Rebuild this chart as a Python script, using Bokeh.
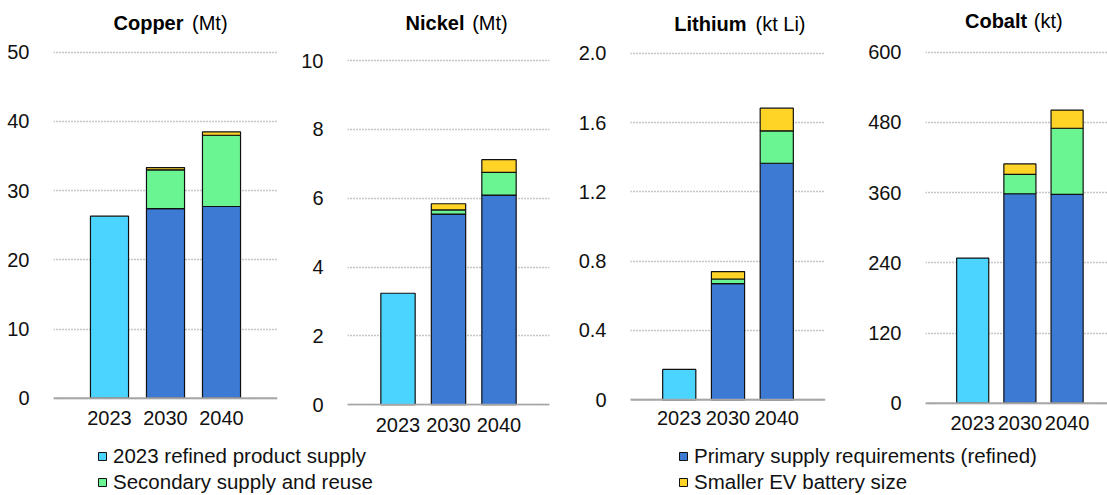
from bokeh.plotting import figure
from bokeh.models import (ColumnDataSource, FixedTicker, CustomJSTickFormatter, Label,
                          Legend, LegendItem, Range1d, Span)
from bokeh.layouts import column, row
from bokeh.embed import file_html
from bokeh.resources import INLINE

# ---------------- data ----------------
years = ["2023", "2030", "2040"]
minerals = ["Copper", "Nickel", "Lithium", "Cobalt"]
units = ["(Mt)", "(Mt)", "(kt Li)", "(kt)"]

# values per mineral (Copper, Nickel, Lithium, Cobalt)
refined_supply_2023 = [26.3, 3.24, 0.175, 248]
primary_2030 = [27.4, 5.54, 0.67, 358]
primary_2040 = [27.7, 6.09, 1.365, 357]
secondary_2030 = [5.6, 0.12, 0.027, 33]
secondary_2040 = [10.3, 0.66, 0.187, 113]
smaller_ev_2030 = [0.33, 0.18, 0.043, 18]
smaller_ev_2040 = [0.48, 0.37, 0.131, 31]

y_ticks = [
    [0, 10, 20, 30, 40, 50],
    [0, 2, 4, 6, 8, 10],
    [0, 0.4, 0.8, 1.2, 1.6, 2.0],
    [0, 120, 240, 360, 480, 600],
]

series_names = ["2023 refined product supply", "Primary supply requirements (refined)",
                "Secondary supply and reuse", "Smaller EV battery size"]
colors = ["#4AD4FF", "#3D7AD4", "#6BF592", "#FFD426"]

# ---------------- layout (pixels) ----------------
FONT = "Liberation Sans"
TXT = "#111111"
fig_w = [298, 277, 290, 242]
b_left = [53, 45, 50, 55]
b_right = [21, 26, 40, 0]
fig_h = 440
frame_bottom = 405          # common frame bottom (frames aligned by the row)
zero_px = [397.7, 404.3, 399.3, 402.7]   # pixel row of value 0 in each panel
top_px = [51.7, 60.0, 52.7, 51.7]        # pixel row of the highest tick
x_end = [4.0, 4.0, 4.0, 3.856]
x_standoff = [-1, 6, -1, 4]
# title positions relative to frame (bold right edge, normal left edge, baseline from bottom)
title_pos = [(130, 138.5, 383), (117, 124.7, 383), (116, 125, 381.3), (101.7, 108.3, 384.7)]

panels = []
for i, name in enumerate(minerals):
    k = (zero_px[i] - top_px[i]) / y_ticks[i][-1]
    y0 = -(frame_bottom - zero_px[i]) / k
    y1 = zero_px[i] / k
    p = figure(width=fig_w[i], height=fig_h, output_backend="svg", toolbar_location=None,
               x_range=Range1d(0, x_end[i]), y_range=Range1d(y0, y1),
               min_border_left=b_left[i], min_border_right=b_right[i],
               min_border_top=0, min_border_bottom=fig_h - frame_bottom)
    p.outline_line_color = None
    p.title.visible = False

    # stacked segments
    xs, bottoms, tops, cols = [], [], [], []
    stacks = [
        (1, [(refined_supply_2023[i], colors[0])]),
        (2, [(primary_2030[i], colors[1]), (secondary_2030[i], colors[2]), (smaller_ev_2030[i], colors[3])]),
        (3, [(primary_2040[i], colors[1]), (secondary_2040[i], colors[2]), (smaller_ev_2040[i], colors[3])]),
    ]
    for xpos, segs in stacks:
        base = 0.0
        for v, c in segs:
            if v > 0:
                xs.append(xpos); bottoms.append(base); tops.append(base + v); cols.append(c)
                base += v
    src = ColumnDataSource(dict(x=xs, bottom=bottoms, top=tops, color=cols))
    p.vbar(x="x", bottom="bottom", top="top", width=0.68, source=src,
           fill_color="color", line_color="#111111", line_width=1.2)

    # axes
    p.yaxis.ticker = FixedTicker(ticks=y_ticks[i])
    if name == "Lithium":
        p.yaxis.formatter = CustomJSTickFormatter(code="return tick === 0 ? '0' : tick.toFixed(1);")
    p.yaxis.axis_line_color = None
    p.yaxis.major_tick_line_color = None
    p.yaxis.minor_tick_line_color = None
    p.yaxis.major_label_standoff = 18
    p.yaxis.major_label_text_font = FONT
    p.yaxis.major_label_text_font_size = "20px"
    p.yaxis.major_label_text_color = TXT

    p.xaxis.ticker = FixedTicker(ticks=[1, 2, 3])
    p.xaxis.formatter = CustomJSTickFormatter(args=dict(labels=years),
                                              code="return labels[Math.round(tick) - 1];")
    p.xaxis.axis_line_color = None
    p.xaxis.major_tick_line_color = None
    p.xaxis.minor_tick_line_color = None
    p.xaxis.major_label_standoff = x_standoff[i]
    p.xaxis.major_label_text_font = FONT
    p.xaxis.major_label_text_font_size = "20px"
    p.xaxis.major_label_text_color = TXT

    p.xgrid.grid_line_color = None
    p.ygrid.grid_line_color = "#8C8C8C"
    p.ygrid.grid_line_dash = "1 2"
    p.ygrid.grid_line_width = 1.5

    # baseline (category axis line) at value 0
    p.add_layout(Span(location=0, dimension="width", line_color="#A6A6A6", line_width=2))

    bx, nx, by = title_pos[i]
    p.add_layout(Label(x=bx, y=by, x_units="screen", y_units="screen", text=name,
                       text_align="right", text_baseline="alphabetic", text_font=FONT,
                       text_font_size="20px", text_font_style="bold", text_color="#000000"))
    p.add_layout(Label(x=nx, y=by, x_units="screen", y_units="screen", text=units[i],
                       text_align="left", text_baseline="alphabetic", text_font=FONT,
                       text_font_size="20px", text_color="#000000"))
    panels.append(p)

# ---------------- legend ----------------
leg_h = 55
leg = figure(width=1107, height=leg_h, output_backend="svg", toolbar_location=None,
             x_range=Range1d(0, 1), y_range=Range1d(0, 1),
             x_axis_location=None, y_axis_location=None,
             min_border_left=0, min_border_right=0, min_border_top=0, min_border_bottom=0)
leg.outline_line_color = None
leg.title.visible = False
leg.xgrid.visible = False
leg.ygrid.visible = False
# proxy renderers for the legend (one off-range point each, never visible)
rs = [leg.vbar(x=[-5], top=[0], width=0.1, fill_color=c, line_color="#111111", line_width=1)
      for c in colors]

def make_legend(idx, loc):
    return Legend(items=[LegendItem(label=series_names[k], renderers=[rs[k]]) for k in idx],
                  location=loc, orientation="vertical", glyph_width=10, glyph_height=10,
                  label_standoff=6, spacing=2, padding=0, margin=0,
                  border_line_color=None, background_fill_alpha=0,
                  label_text_font=FONT, label_text_font_size="20.5px",
                  label_text_color=TXT, label_height=20)

leg.add_layout(make_legend([0, 2], (97, 1)))
leg.add_layout(make_legend([1, 3], (678, 1)))

layout = column(row(*panels, spacing=0), leg, spacing=0)
open("out.html", "w").write(file_html(layout, INLINE))
